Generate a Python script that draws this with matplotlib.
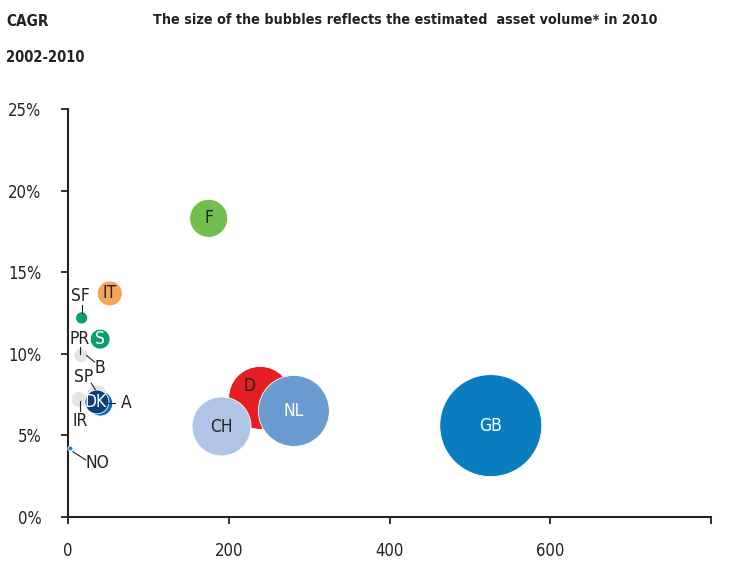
import matplotlib.pyplot as plt

# bubble data: x value, CAGR (%), estimated asset volume 2010 (relative)
# order = drawing order (later ones on top)
countries = ["GB", "D", "CH", "NL", "F", "IT", "S", "SF", "B", "SP", "IR", "A", "DK", "NO"]
x_vals = [526, 239, 191, 281, 175, 52, 40, 17, 16, 36, 14, 40, 36, 3]
cagr = [5.6, 7.3, 5.55, 6.5, 18.3, 13.7, 10.9, 12.2, 9.9, 7.5, 7.2, 6.95, 7.05, 4.2]
volume = [1000, 380, 335, 485, 139, 60, 38, 14, 19, 38, 25, 60, 55, 2.4]
colors = ["#0A7DC0", "#E31E24", "#B0C4E6", "#6A9BD1", "#72BF4F", "#F7A55C", "#0E9A73",
          "#0E9A73", "#E4E4E4", "#E4E4E4", "#E4E4E4", "#0A6DB8", "#0B3F7A", "#1A8AD0"]

# labels drawn inside the bubble: text colour and position
inside = {"GB": ("white", 526, 5.6), "NL": ("white", 281, 6.5),
          "D": ("#222222", 226, 8.0), "CH": ("#222222", 191, 5.5),
          "F": ("#222222", 175, 18.3), "IT": ("#222222", 52, 13.7),
          "S": ("white", 40, 10.9), "DK": ("white", 34, 7.05)}
# labels outside: text position and leader line (x0, y0, x1, y1)
outside = {
    "SF": ((15, 13.55), (17, 13.0, 17, 12.5)),
    "PR": ((14, 10.9), (15, 10.4, 15, 10.0)),
    "B": ((40, 9.15), (33, 9.5, 23, 9.9)),
    "SP": ((20, 8.6), (29, 8.2, 34, 7.8)),
    "A": ((72, 6.98), (59, 7.0, 50, 7.0)),
    "IR": ((15, 5.9), (15, 6.5, 15, 7.1)),
    "NO": ((37, 3.3), (6, 4.0, 22, 3.5)),
}

xticks = [0, 200, 400, 600, 800]
xtick_labels = ["0", "200", "400", "600", ""]
yticks = [0, 5, 10, 15, 20, 25]
ytick_labels = ["0%", "5%", "10%", "15%", "20%", "25%"]

plt.rcParams["font.family"] = ["DejaVu Sans"]
plt.rcParams["font.stretch"] = "condensed"
dark = "#222222"

fig = plt.figure(figsize=(7.36, 5.79), dpi=100)
ax = fig.add_axes([68 / 736, 62 / 579, 643 / 736, 408 / 579])

ax.scatter(x_vals, cagr, s=[v * 5.39 for v in volume], c=colors,
           edgecolors="white", linewidths=0.6, clip_on=False, zorder=3)

for name, (col, x, y) in inside.items():
    ax.text(x, y, name, ha="center", va="center", fontsize=12.5,
            color=col, zorder=5)

for name, ((tx, ty), (x0, y0, x1, y1)) in outside.items():
    ax.text(tx, ty, name, ha="center", va="center", fontsize=12.5,
            color=dark, zorder=5)
    ax.plot([x0, x1], [y0, y1], color=dark, lw=0.8, zorder=4, clip_on=False)

ax.set_xlim(0, 800)
ax.set_ylim(0, 25)
ax.set_xticks(xticks)
ax.set_xticklabels(xtick_labels)
ax.set_yticks(yticks)
ax.set_yticklabels(ytick_labels)
ax.tick_params(axis="both", direction="out", length=5, width=1.3,
               labelsize=12, colors=dark)
ax.tick_params(axis="y", pad=14)
ax.tick_params(axis="x", pad=13)

for side in ["top", "right"]:
    ax.spines[side].set_visible(False)
for side in ["left", "bottom"]:
    ax.spines[side].set_linewidth(1.5)
    ax.spines[side].set_color(dark)

fig.text(6 / 736, 1 - 22 / 579, "CAGR", fontsize=11, fontweight="bold",
         color=dark, va="center", ha="left")
fig.text(6 / 736, 1 - 58 / 579, "2002-2010", fontsize=10.5, fontweight="bold",
         color=dark, va="center", ha="left")
fig.text(405 / 736, 1 - 20 / 579,
         "The size of the bubbles reflects the estimated  asset volume* in 2010",
         fontsize=10.3, fontweight="bold", color=dark, va="center", ha="center")

fig.savefig("out.png", dpi=100)
